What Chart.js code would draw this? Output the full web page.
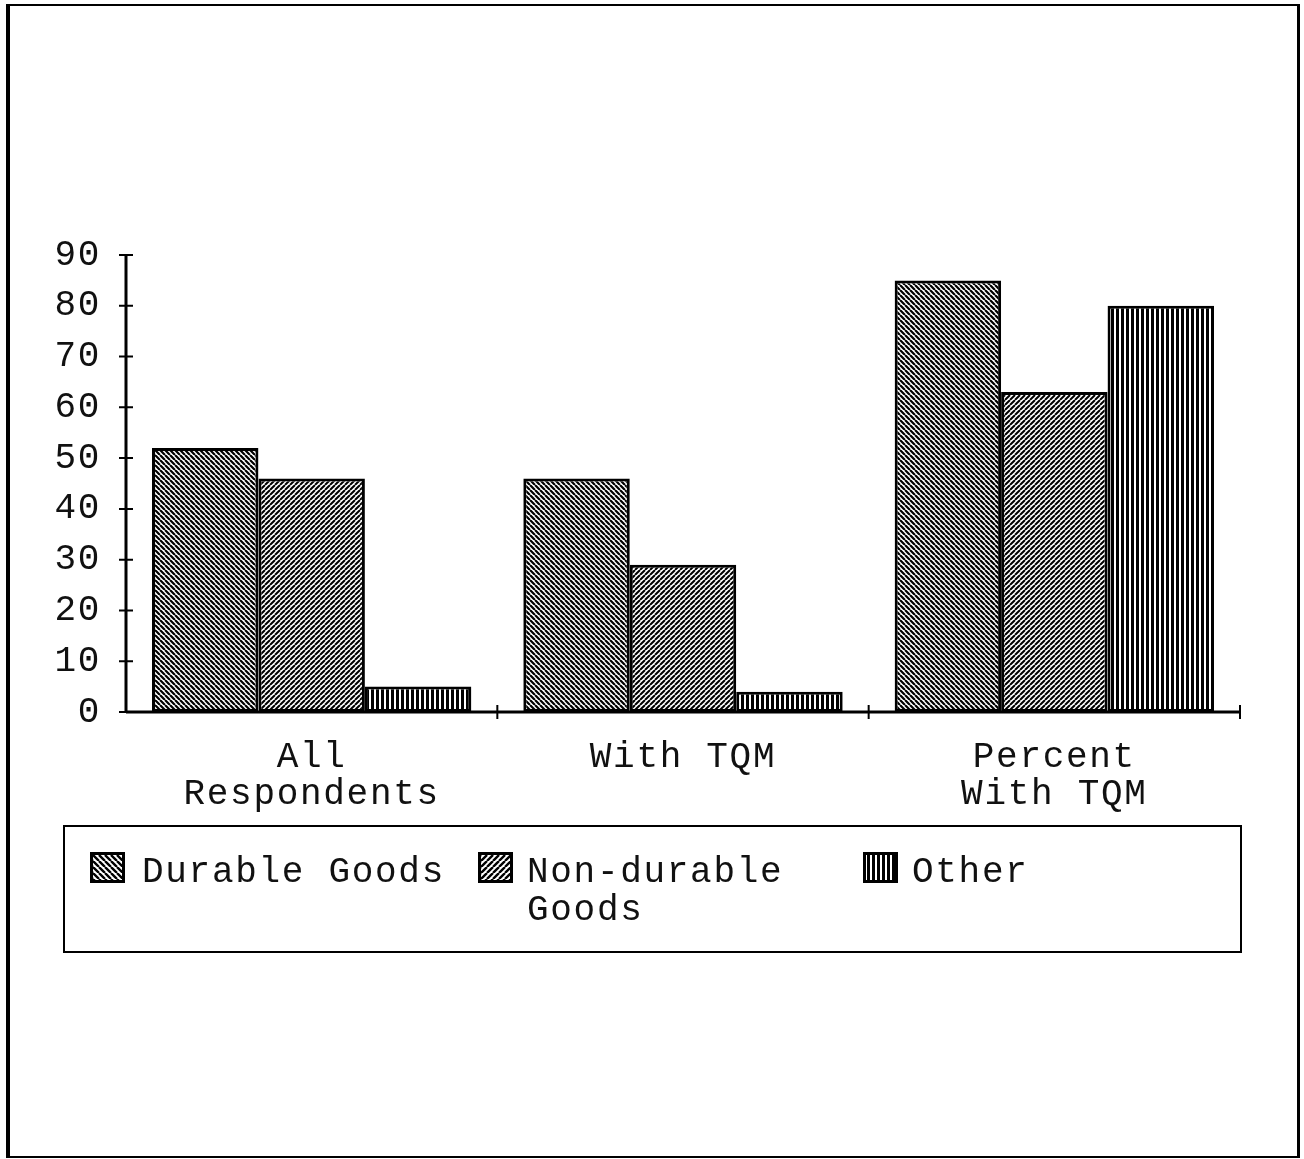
<!DOCTYPE html>
<html>
<head>
<meta charset="utf-8">
<script src="https://cdn.jsdelivr.net/npm/chart.js@4.4.0/dist/chart.umd.min.js"></script>
<style>
  body { margin: 0; background: #fff; }
  #wrap { position: relative; width: 1304px; height: 1159px; overflow: hidden; }
  #frame {
    position: absolute; left: 6px; top: 4px; width: 1294px; height: 1154px;
    box-sizing: border-box; border-style: solid; border-color: #000;
    border-width: 2px 3px 2px 4px;
  }
  #chart { position: absolute; left: 0; top: 0; }
  #legend {
    position: absolute; left: 63px; top: 825px; width: 1179px; height: 128px;
    box-sizing: border-box; border: 2px solid #000;
  }
  .item { position: absolute; top: 0; }
  .item canvas {
    position: absolute; left: 0; top: 852px; width: 35px; height: 31px;
    box-sizing: border-box; border: 3px solid #000;
  }
  .item span {
    position: absolute; top: 854px; white-space: pre;
    font: 36px "Liberation Mono", "Courier New", monospace; line-height: 38px;
    letter-spacing: 1.7px; color: #111;
  }
</style>
</head>
<body>
<div id="wrap">
  <div id="frame"></div>
  <canvas id="chart" width="1304" height="1159"></canvas>
  <div id="legend"></div>
  <div id="items"></div>
</div>
<script>
// data
const categories = [["All", "Respondents"], ["With TQM"], ["Percent", "With TQM"]];
const durableGoods = [52, 46, 85];
const nonDurableGoods = [46, 29, 63];
const otherGoods = [5, 4, 80];
const seriesNames = ["Durable Goods", "Non-durable\nGoods", "Other"];
const yMax = 90;
const yStep = 10;

const FONT = "'Liberation Mono', 'Courier New', monospace";

// hatch fills: "back" = \\\ , "fwd" = ///, "vert" = |||
function hatch(kind, period, width) {
  const c = document.createElement("canvas");
  c.width = period; c.height = period;
  const g = c.getContext("2d");
  g.fillStyle = "#fff";
  g.fillRect(0, 0, period, period);
  g.strokeStyle = "#000";
  g.lineWidth = width;
  g.beginPath();
  if (kind === "vert") {
    g.moveTo(period / 2, 0); g.lineTo(period / 2, period);
  } else {
    for (const o of [-period, 0, period]) {
      if (kind === "back") { g.moveTo(o, 0); g.lineTo(o + period, period); }
      else { g.moveTo(o, period); g.lineTo(o + period, 0); }
    }
  }
  g.stroke();
  return c;
}

const ctx = document.getElementById("chart").getContext("2d");
const fills = [
  ctx.createPattern(hatch("back", 5, 2.2), "repeat"),
  ctx.createPattern(hatch("fwd", 5, 2.0), "repeat"),
  ctx.createPattern(hatch("vert", 5, 3.0), "repeat"),
];

// axis lines with ticks crossing both sides
const axesPlugin = {
  id: "axes",
  beforeUpdate(chart) { chart.ctx.letterSpacing = "1.7px"; },
  beforeDraw(chart) { chart.ctx.letterSpacing = "1.7px"; },
  afterDatasetsDraw(chart) {
    const { ctx, chartArea: a, scales: { x, y } } = chart;
    ctx.save();
    ctx.strokeStyle = "#000";
    ctx.lineWidth = 3;
    ctx.beginPath();
    ctx.moveTo(a.left, a.top); ctx.lineTo(a.left, a.bottom);
    ctx.moveTo(a.left, a.bottom); ctx.lineTo(a.right, a.bottom);
    ctx.stroke();
    ctx.lineWidth = 2;
    ctx.beginPath();
    for (let v = 0; v <= yMax; v += yStep) {
      const py = y.getPixelForValue(v);
      ctx.moveTo(a.left - 7, py); ctx.lineTo(a.left + 7, py);
    }
    const n = categories.length;
    for (let i = 1; i <= n; i++) {
      const px = a.left + (a.right - a.left) * i / n;
      ctx.moveTo(px, a.bottom - 7); ctx.lineTo(px, a.bottom + 7);
    }
    ctx.stroke();
    ctx.restore();
  },
};

const names = seriesNames.map(s => s.replace("\n", " "));
new Chart(ctx, {
  type: "bar",
  data: {
    labels: categories,
    datasets: [
      { label: names[0], data: durableGoods, backgroundColor: fills[0] },
      { label: names[1], data: nonDurableGoods, backgroundColor: fills[1] },
      { label: names[2], data: otherGoods, backgroundColor: fills[2] },
    ].map(d => Object.assign(d, {
      borderColor: "#000", borderWidth: 3, borderSkipped: false,
      categoryPercentage: 0.86, barPercentage: 1.0,
    })),
  },
  options: {
    responsive: false,
    animation: false,
    devicePixelRatio: 1,
    layout: { padding: { left: 0, right: 64, top: 255, bottom: 300 } },
    plugins: { legend: { display: false }, tooltip: { enabled: false } },
    scales: {
      x: {
        grid: { display: false, drawTicks: false },
        border: { display: false },
        ticks: { color: "#111", padding: 27, font: { family: FONT, size: 36, lineHeight: 1.03 } },
        afterFit(s) { s.height = 1159 - 300 - 712; },
      },
      y: {
        min: 0, max: yMax,
        grid: { display: false, drawTicks: false },
        border: { display: false },
        ticks: { stepSize: yStep, color: "#111", padding: 25, font: { family: FONT, size: 36 } },
        afterFit(s) { s.width = 126; },
      },
    },
  },
  plugins: [axesPlugin],
});

// legend built from the series names and the same fills
const legendX = [90, 478, 863];
const items = document.getElementById("items");
seriesNames.forEach((name, i) => {
  const item = document.createElement("div");
  item.className = "item";
  item.style.left = legendX[i] + "px";
  const sw = document.createElement("canvas");
  sw.width = 29; sw.height = 25;
  const sg = sw.getContext("2d");
  sg.fillStyle = sg.createPattern(hatch(["back", "fwd", "vert"][i], i === 2 ? 5 : 6, i === 2 ? 3 : 2.4), "repeat");
  sg.fillRect(0, 0, 29, 25);
  const label = document.createElement("span");
  label.style.left = (i === 0 ? 52 : 49) + "px";
  label.textContent = name;
  item.appendChild(sw);
  item.appendChild(label);
  items.appendChild(item);
});
</script>
</body>
</html>
